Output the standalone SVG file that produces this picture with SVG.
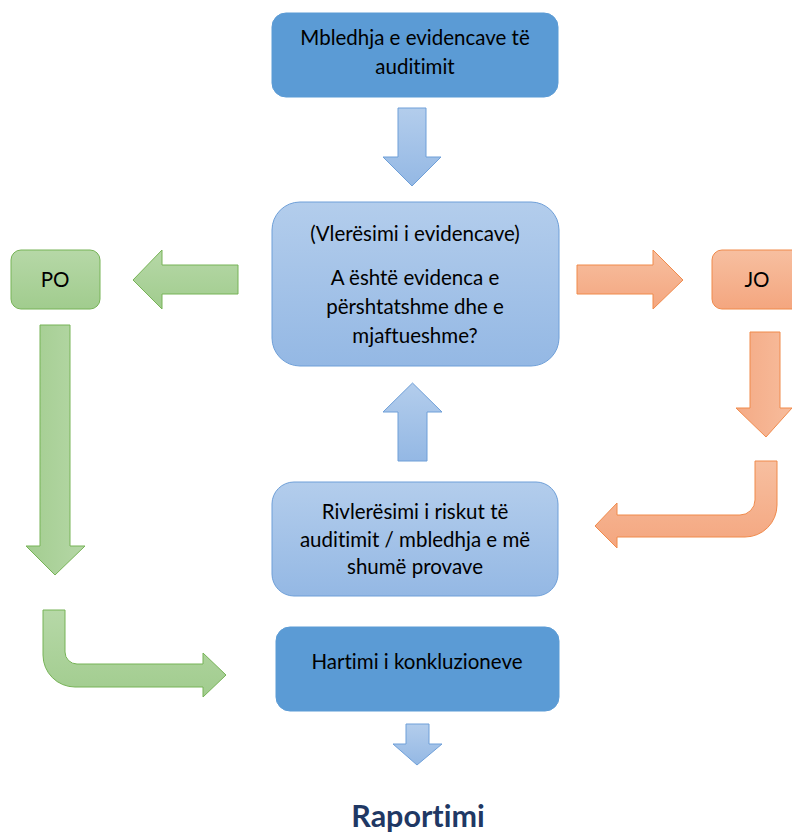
<svg xmlns="http://www.w3.org/2000/svg" width="792" height="832" viewBox="0 0 792 832">
<defs>
<linearGradient id="gBlue" x1="0" y1="0" x2="0" y2="1"><stop offset="0" stop-color="#B3CDEC"/><stop offset="1" stop-color="#94B8E4"/></linearGradient>
<linearGradient id="gGreen" x1="0" y1="0" x2="0" y2="1"><stop offset="0" stop-color="#B6D8A7"/><stop offset="1" stop-color="#A1CC8E"/></linearGradient>
<linearGradient id="gGreenH" x1="0" y1="0" x2="1" y2="0"><stop offset="0" stop-color="#A3CD90"/><stop offset="1" stop-color="#B5D7A6"/></linearGradient>
<linearGradient id="gOrange" x1="0" y1="0" x2="0" y2="1"><stop offset="0" stop-color="#F7BFA0"/><stop offset="1" stop-color="#F4A67F"/></linearGradient>
<linearGradient id="gOrangeH" x1="0" y1="0" x2="1" y2="0"><stop offset="0" stop-color="#F4AA85"/><stop offset="1" stop-color="#F7BC9C"/></linearGradient>
</defs>
<style>
text{font-family:Lato,"Liberation Sans",sans-serif;font-size:20.5px;fill:#000;text-anchor:middle;font-variant-ligatures:none;font-feature-settings:"liga" 0,"dlig" 0}
.dark{fill:#5B9BD5;stroke:#5B9BD5;stroke-width:1}
.light{fill:url(#gBlue);stroke:#6E9FD8;stroke-width:1}
.green{fill:url(#gGreen);stroke:#76B356;stroke-width:1}
.greenh{fill:url(#gGreenH);stroke:#76B356;stroke-width:1}
.orange{fill:url(#gOrange);stroke:#F08A4B;stroke-width:1}
.orangeh{fill:url(#gOrangeH);stroke:#F08A4B;stroke-width:1}
.title{font-weight:bold;font-size:30.5px;fill:#1F3864}
</style>
<g id="connectors">
<path class="light" d="M398,108 L426,108 L426,157 L441,157 L412,186 L383,157 L398,157 Z"/>
<path class="light" d="M398,461 L427,461 L427,412 L442,412 L412.5,383 L383,412 L398,412 Z"/>
<path class="light" d="M406,724 L429,724 L429,744 L442,744 L417,765 L393,744 L406,744 Z"/>
<path class="green" d="M238,265 L238,294 L162,294 L162,309 L133,280 L162,250 L162,265 Z"/>
<path class="greenh" d="M40,325 L70,325 L70,546 L85,546 L55,575 L26,546 L40,546 Z"/>
<path class="green" d="M43,610 L43,655 A32,32 0 0 0 75,687 L203,687 L203,697 L226,675 L203,653 L203,664 L77,664 A12,12 0 0 1 65,652 L65,610 Z"/>
<path class="orange" d="M577,265 L653,265 L653,250 L683,280 L653,309 L653,294 L577,294 Z"/>
<path class="orangeh" d="M750,332 L780,332 L780,408 L792,408 L766,437 L736,408 L750,408 Z"/>
<path class="orange" d="M755,461 L777,461 L777,505 A32,32 0 0 1 745,537 L617,537 L617,548 L595,526 L617,503 L617,515 L740,515 A15,15 0 0 0 755,500 Z"/>
</g>
<g id="node-collect">
<rect class="dark" x="272" y="13" width="286" height="84" rx="14"/>
<text x="415" y="45">Mbledhja e evidencave të</text>
<text x="415" y="74">auditimit</text>
</g>
<g id="node-evaluate">
<rect class="light" x="272" y="202" width="287" height="164" rx="28"/>
<text x="415" y="241">(Vlerësimi i evidencave)</text>
<text x="415" y="285">A është evidenca e</text>
<text x="415" y="314">përshtatshme dhe e</text>
<text x="415" y="343">mjaftueshme?</text>
</g>
<g id="node-po">
<rect class="green" x="11" y="250" width="89" height="59" rx="10"/>
<text x="55" y="287">PO</text>
</g>
<g id="node-jo">
<rect class="orange" x="712" y="250" width="100" height="59" rx="10"/>
<text x="757" y="287">JO</text>
</g>
<g id="node-reassess">
<rect class="light" x="272" y="482" width="286" height="114" rx="22"/>
<text x="415" y="519">Rivlerësimi i riskut të</text>
<text x="415" y="547">auditimit / mbledhja e më</text>
<text x="415" y="574">shumë provave</text>
</g>
<g id="node-conclusions">
<rect class="dark" x="276" y="627" width="283" height="84" rx="14"/>
<text x="417" y="669">Hartimi i konkluzioneve</text>
</g>
<g id="node-report">
<text class="title" x="418" y="827">Raportimi</text>
</g>
</svg>
